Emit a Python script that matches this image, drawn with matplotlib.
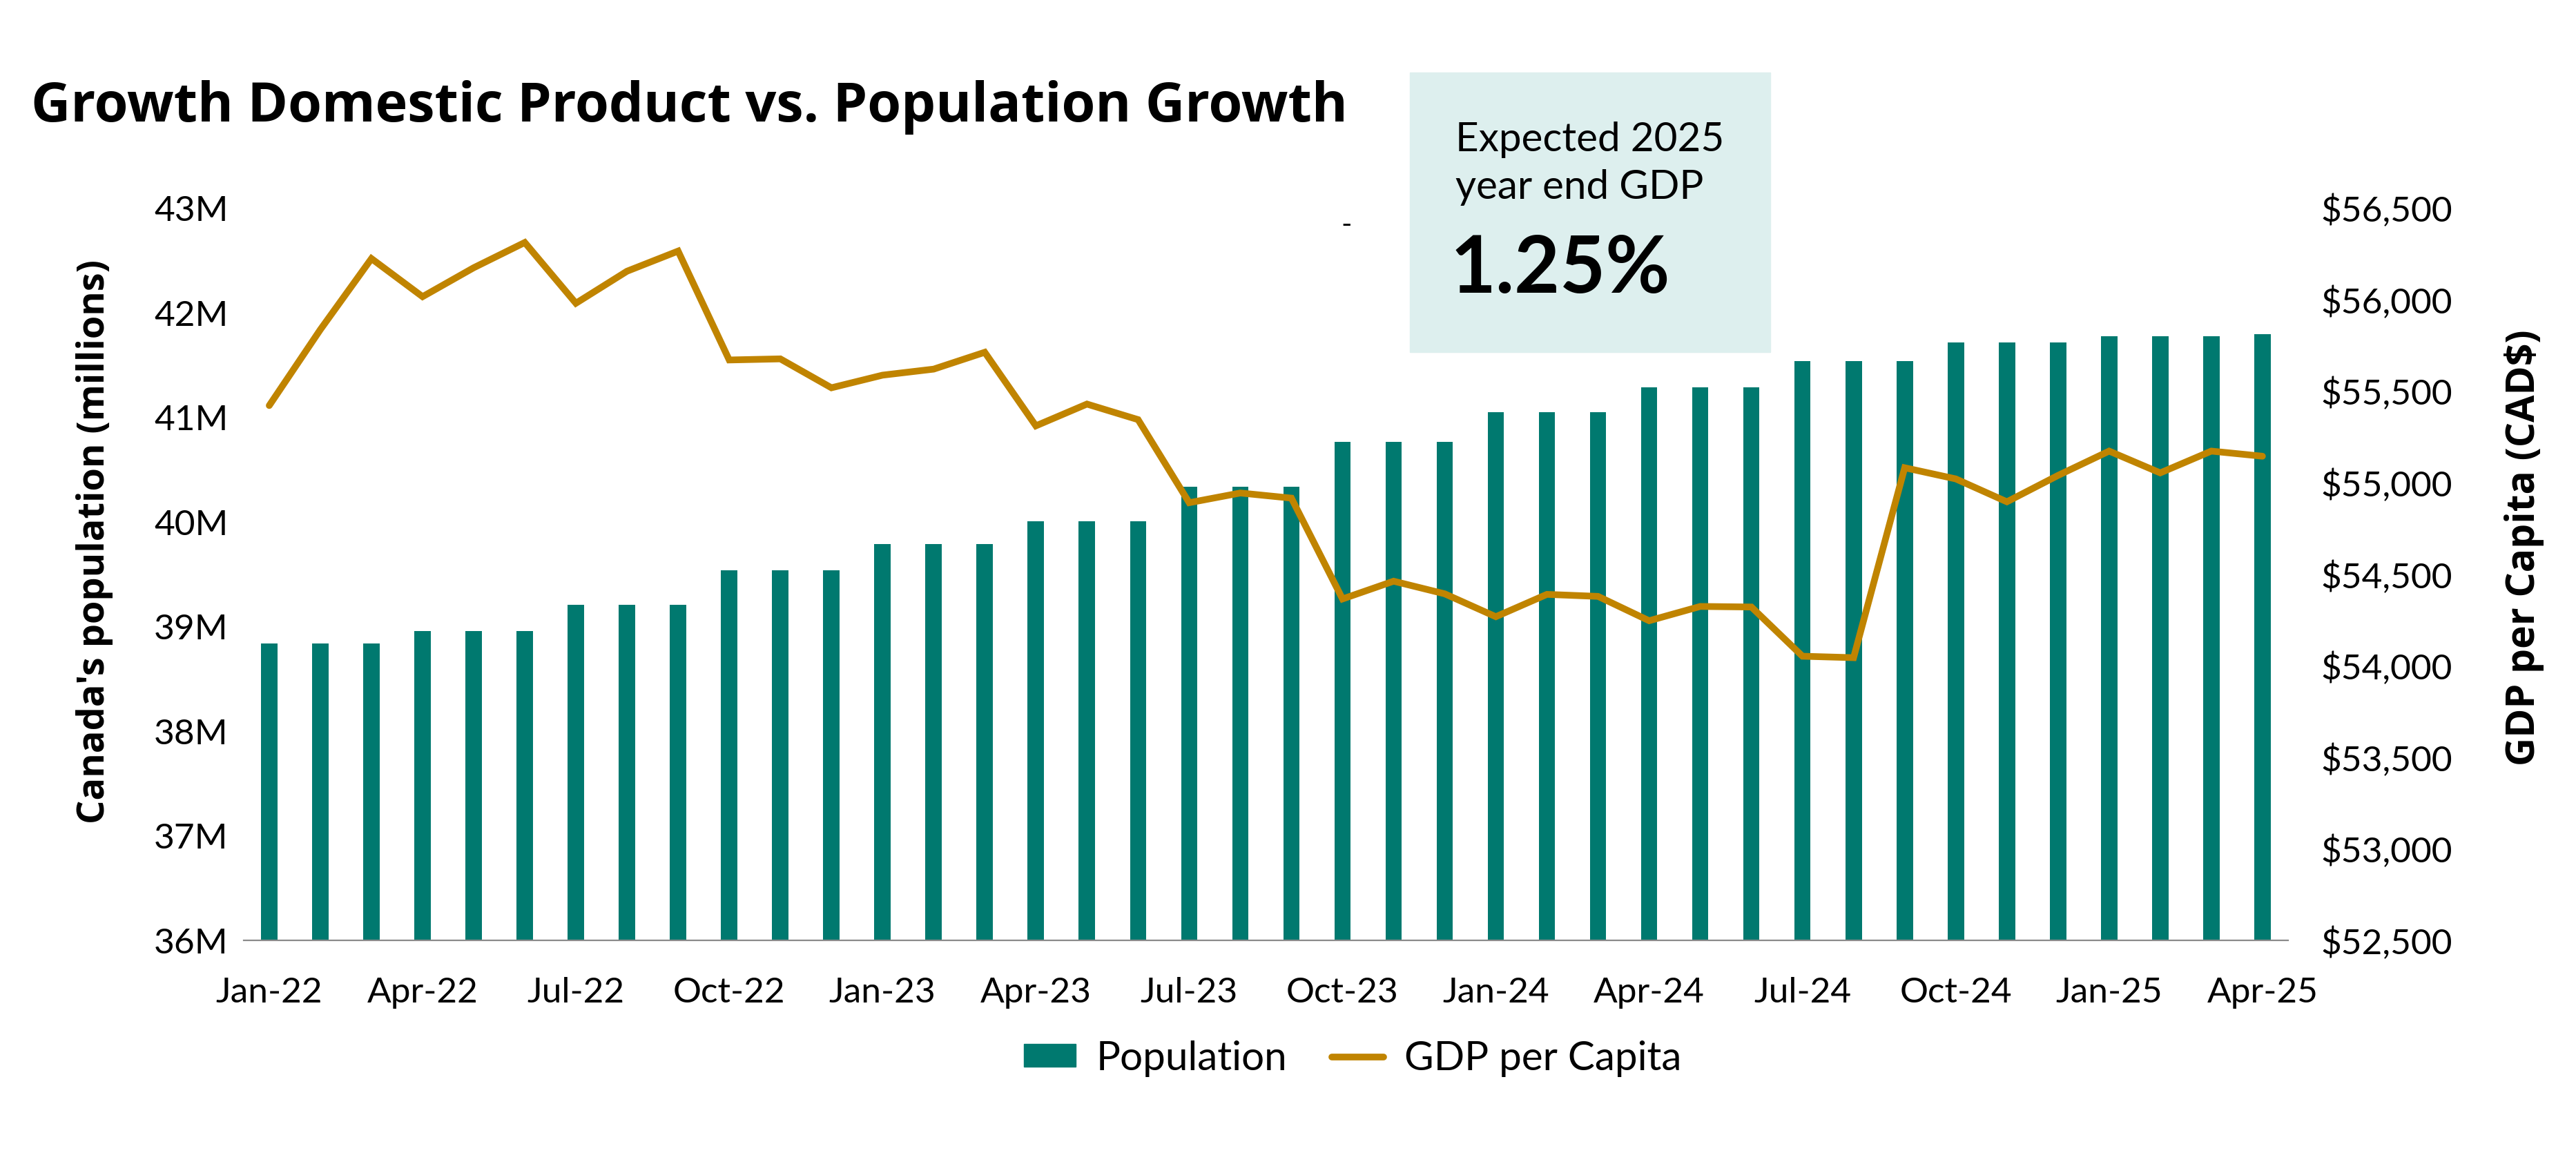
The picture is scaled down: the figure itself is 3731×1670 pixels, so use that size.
import matplotlib
matplotlib.use('Agg')

import matplotlib.pyplot as plt
from matplotlib.patches import Rectangle, Patch
from matplotlib.lines import Line2D

plt.rcParams['font.family'] = ['Lato', 'DejaVu Sans']
BOLD_FONT = ['Open Sans', 'DejaVu Sans']

# monthly data, Jan-22 .. Apr-25
months = ['Jan-22', 'Feb-22', 'Mar-22', 'Apr-22', 'May-22', 'Jun-22',
          'Jul-22', 'Aug-22', 'Sep-22', 'Oct-22', 'Nov-22', 'Dec-22',
          'Jan-23', 'Feb-23', 'Mar-23', 'Apr-23', 'May-23', 'Jun-23',
          'Jul-23', 'Aug-23', 'Sep-23', 'Oct-23', 'Nov-23', 'Dec-23',
          'Jan-24', 'Feb-24', 'Mar-24', 'Apr-24', 'May-24', 'Jun-24',
          'Jul-24', 'Aug-24', 'Sep-24', 'Oct-24', 'Nov-24', 'Dec-24',
          'Jan-25', 'Feb-25', 'Mar-25', 'Apr-25']

population = [38.84, 38.84, 38.84, 38.96, 38.96, 38.96,
              39.21, 39.21, 39.21, 39.54, 39.54, 39.54,
              39.79, 39.79, 39.79, 40.01, 40.01, 40.01,
              40.34, 40.34, 40.34, 40.77, 40.77, 40.77,
              41.05, 41.05, 41.05, 41.29, 41.29, 41.29,
              41.54, 41.54, 41.54, 41.72, 41.72, 41.72,
              41.78, 41.78, 41.78, 41.80]

gdp_per_capita = [55423, 55838, 56226, 56018, 56176, 56314,
                  55982, 56157, 56267, 55672, 55678, 55520,
                  55589, 55622, 55714, 55312, 55431, 55346,
                  54892, 54945, 54917, 54366, 54463, 54394,
                  54269, 54391, 54380, 54247, 54325, 54322,
                  54053, 54045, 55083, 55022, 54897, 55041,
                  55174, 55055, 55174, 55146]

left_ticks = [36, 37, 38, 39, 40, 41, 42, 43]
right_ticks = [52500, 53000, 53500, 54000, 54500, 55000, 55500, 56000, 56500]

TEAL = '#00796f'
GOLD = '#c08400'
BOX = '#ddefee'
FS = 37

fig = plt.figure(figsize=(37.31, 16.70), dpi=100)
ax = fig.add_axes([0.0946, 0.1844, 0.7936, 0.6348])

x = list(range(len(months)))
ax.bar(x, population, width=0.32, color=TEAL, zorder=2)
ax.set_ylim(36, 43)
ax.set_xlim(-0.5, len(months) - 0.5)
ax.set_yticks(left_ticks)
ax.set_yticklabels(['%dM' % v for v in left_ticks])
ax.set_xticks(x[::3])
ax.set_xticklabels(months[::3])

ax2 = ax.twinx()
ax2.plot(x, gdp_per_capita, color=GOLD, lw=7, solid_joinstyle='miter',
         solid_capstyle='round')
ax2.set_ylim(52500, 56500)
ax2.set_yticks(right_ticks)
ax2.set_yticklabels(['${:,}'.format(v) for v in right_ticks])

for a in (ax, ax2):
    for s in ('top', 'left', 'right'):
        a.spines[s].set_visible(False)
    a.spines['bottom'].set_color('#8a8a8a')
    a.spines['bottom'].set_linewidth(1.6)
ax2.spines['bottom'].set_visible(False)

ax.tick_params(axis='y', length=0, pad=16, labelsize=FS)
ax.tick_params(axis='x', length=0, pad=38, labelsize=FS)
ax2.tick_params(axis='y', length=0, pad=34, labelsize=FS)

# axis titles
fig.text(0.0367, 0.530, "Canada's population (millions)", rotation=90,
         ha='center', va='center', fontsize=39, fontweight='bold',
         family=BOLD_FONT)
fig.text(0.980, 0.525, 'GDP per Capita (CAD$)', rotation=90,
         ha='center', va='center', fontsize=41, fontweight='bold',
         family=BOLD_FONT)

# title
fig.text(0.0121, 1 - 176 / 1670, 'Growth Domestic Product vs. Population Growth',
         fontsize=57, fontweight='bold', va='baseline', family=BOLD_FONT)

# callout box
fig.patches.append(Rectangle((0.5473, 0.6946), 0.1399, 0.2425,
                             transform=fig.transFigure, color=BOX, zorder=0))
fig.text(0.565, 1 - 219 / 1670, 'Expected 2025', fontsize=42, va='baseline')
fig.text(0.565, 1 - 288 / 1670, 'year end GDP', fontsize=42, va='baseline')
fig.text(0.563, 1 - 424 / 1670, '1.25%', fontsize=82, fontweight='bold',
         va='baseline')
fig.text(0.5226, 1 - 326 / 1670, '-', fontsize=30, ha='center', va='center')

handles = [Patch(color=TEAL, label='Population'),
           Line2D([], [], color=GOLD, lw=7, solid_capstyle='round',
                  label='GDP per Capita')]
fig.legend(handles=handles, loc='center', bbox_to_anchor=(0.525, 0.082),
           ncol=2, frameon=False, fontsize=42, handlelength=1.3,
           handleheight=0.5, handletextpad=0.5, columnspacing=1.1)

fig.savefig('out.png', dpi=100)
